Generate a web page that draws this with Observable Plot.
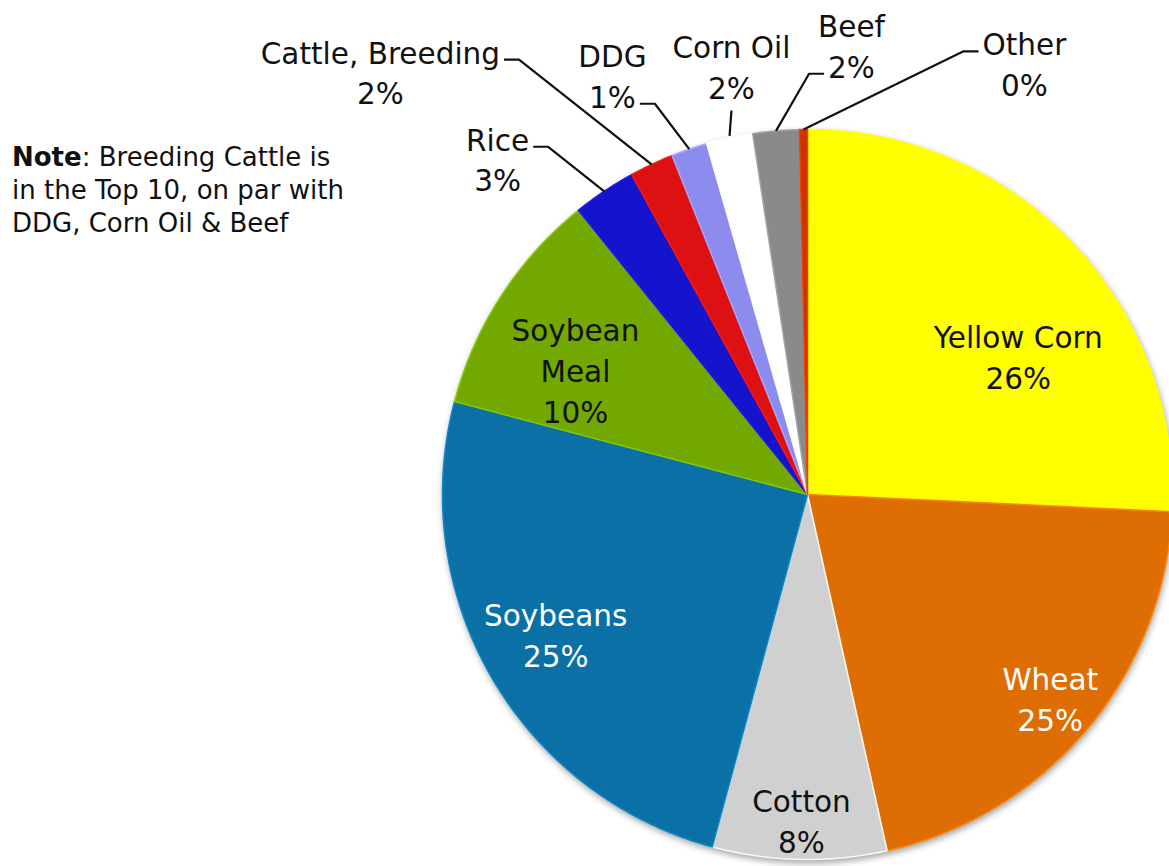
<!DOCTYPE html>
<html><head><meta charset="utf-8">
<script src="https://cdn.jsdelivr.net/npm/d3@7"></script>
<script src="https://cdn.jsdelivr.net/npm/@observablehq/plot@0.6"></script>
<style>
html,body{margin:0;padding:0;background:#fff;}
#wrap{position:relative;width:1169px;height:866px;overflow:hidden;}
#note{position:absolute;left:12px;top:141px;font-family:"DejaVu Sans",sans-serif;font-size:26px;line-height:33px;color:#111;z-index:2;white-space:nowrap;}
#note b{font-weight:700;}
</style></head><body>
<div id="wrap"><div id="note"><b>Note</b>: Breeding Cattle is<br>in the Top 10, on par with<br>DDG, Corn Oil &amp; Beef</div></div>
<script>
// ---- data ----
const categories = ["Yellow Corn","Wheat","Cotton","Soybeans","Soybean Meal","Rice","Cattle, Breeding","DDG","Corn Oil","Beef","Other"];
const shares     = [25.75, 20.75, 7.7, 24.9, 10.1, 2.8, 1.95, 1.6, 2.05, 2.05, 0.35];
const pctLabels  = ["26%","25%","8%","25%","10%","3%","2%","1%","2%","2%","0%"];

// ---- styles ----
const palette  = ["#FFFF00","#DE6E04","#D0D0D0","#0A70A6","#72A800","#1414CC","#DD1111","#8C8CEE","#FFFFFF","#8A8A8A","#CC3300"];
const labelInk = ["#111","#fff","#111","#fff","#111","#111","#111","#111","#111","#111","#111"];

// ---- layout ----
const W = 1169, H = 866, CX = 807, CY = 494, R = 365;
const FONT = "'DejaVu Sans', sans-serif", FS = 29.5, LH = 1.38;
// inside labels: angle offset from slice mid (deg) and radius fraction
const insideLayout = {
  "Yellow Corn":  {da: 10.2, r: 0.692},
  "Wheat":        {da: -0.15, r: 0.867},
  "Cotton":       {da: -0.2, r: 0.891},
  "Soybeans":     {da: 1.15, r: 0.788},
  "Soybean Meal": {da: -4.5, r: 0.723, wrap: "Soybean\nMeal"}
};
// callout labels: polar anchor (deg from 12 o'clock, radius fraction) and leader attachment
const callouts = {
  "Rice":             {angle: -42.65, dist: 1.253, side: "right", line: 0},
  "Cattle, Breeding": {angle: -45.24, dist: 1.648, side: "right", line: 0},
  "DDG":              {angle: -24.9,  dist: 1.269, side: "right", line: 1},
  "Corn Oil":         {angle: -10.05, dist: 1.194, side: "bottom"},
  "Beef":             {angle: 5.58,   dist: 1.239, side: "left", line: 1},
  "Other":            {angle: 26.67,  dist: 1.324, side: "left", line: 0}
};

const ctx = document.createElement("canvas").getContext("2d");
ctx.font = `${FS}px ${FONT}`;
const tw = s => ctx.measureText(s).width;

const arcs = d3.pie().sort(null).value(d => d)(shares);
const colorOf = c => palette[categories.indexOf(c)];

// slice outlines in unit-circle coordinates
const slicePts = [];
arcs.forEach((p, i) => {
  const cat = categories[i];
  const n = Math.max(2, Math.ceil((p.endAngle - p.startAngle) / (Math.PI / 360)));
  slicePts.push({cat, x: 0, y: 0});
  for (let k = 0; k <= n; k++) {
    const a = p.startAngle + (p.endAngle - p.startAngle) * k / n;
    slicePts.push({cat, x: Math.sin(a), y: Math.cos(a)});
  }
  slicePts.push({cat, x: 0, y: 0});
});

const insideLabels = [], calloutLabels = [], leaderPts = [];
arcs.forEach((p, i) => {
  const cat = categories[i];
  const mid = (p.startAngle + p.endAngle) / 2;
  if (insideLayout[cat]) {
    const L = insideLayout[cat];
    const a = mid + L.da * Math.PI / 180;
    insideLabels.push({cat, x: L.r * Math.sin(a), y: L.r * Math.cos(a),
      text: (L.wrap || cat) + "\n" + pctLabels[i], ink: labelInk[i]});
  } else if (callouts[cat]) {
    const C = callouts[cat];
    const a = C.angle * Math.PI / 180;
    const ax = C.dist * Math.sin(a), ay = C.dist * Math.cos(a);
    const lines = [cat, pctLabels[i]];
    calloutLabels.push({cat, x: ax, y: ay, text: lines.join("\n"), ink: labelInk[i]});
    const step = FS * LH / R;
    const rim = {x: Math.sin(mid), y: Math.cos(mid)};
    let pts;
    if (C.side === "bottom") {
      const yb = ay - (step / 2) - (FS * 0.5 + 10) / R;
      pts = [{x: ax, y: yb}, {x: rim.x, y: rim.y + 2 / R}];
    } else {
      const ly = ay + ((lines.length - 1) / 2 - C.line) * step - 9 / R;
      const half = tw(lines[C.line]) / 2 / R;
      const s = C.side === "right" ? 1 : -1;
      const x0 = ax + s * (half + 4 / R);
      const x1 = x0 + s * 15 / R;
      pts = [{x: x0, y: ly}, {x: x1, y: ly}, rim];
    }
    pts.forEach(q => leaderPts.push({cat, ...q}));
  }
});

const plot = Plot.plot({
  width: W, height: H,
  margin: 0,
  x: {domain: [-CX / R, (W - CX) / R], axis: null},
  y: {domain: [(CY - H) / R, CY / R], axis: null},
  color: {type: "identity"},
  style: {background: "transparent", overflow: "visible"},
  marks: [
    Plot.line(slicePts, {x: "x", y: "y", z: "cat", fill: d => colorOf(d.cat),
      stroke: d => d3.color(colorOf(d.cat)).brighter(0.5).formatHex(),
      strokeWidth: 1.5, strokeLinejoin: "round", curve: "linear"}),
    Plot.line(leaderPts, {x: "x", y: "y", z: "cat", stroke: "#111", strokeWidth: 2.2, strokeLinecap: "butt", strokeLinejoin: "miter"}),
    Plot.text(insideLabels, {x: "x", y: "y", text: "text", fill: "ink", fontSize: FS, lineHeight: LH, fontFamily: FONT}),
    Plot.text(calloutLabels, {x: "x", y: "y", text: "text", fill: "ink", fontSize: FS, lineHeight: LH, fontFamily: FONT})
  ]
});
const pieG = plot.querySelector('g[aria-label="line"]');
if (pieG) pieG.style.filter = "drop-shadow(1px 3px 3px rgba(0,0,0,0.35))";
document.getElementById("wrap").appendChild(plot);
</script>
</body></html>
